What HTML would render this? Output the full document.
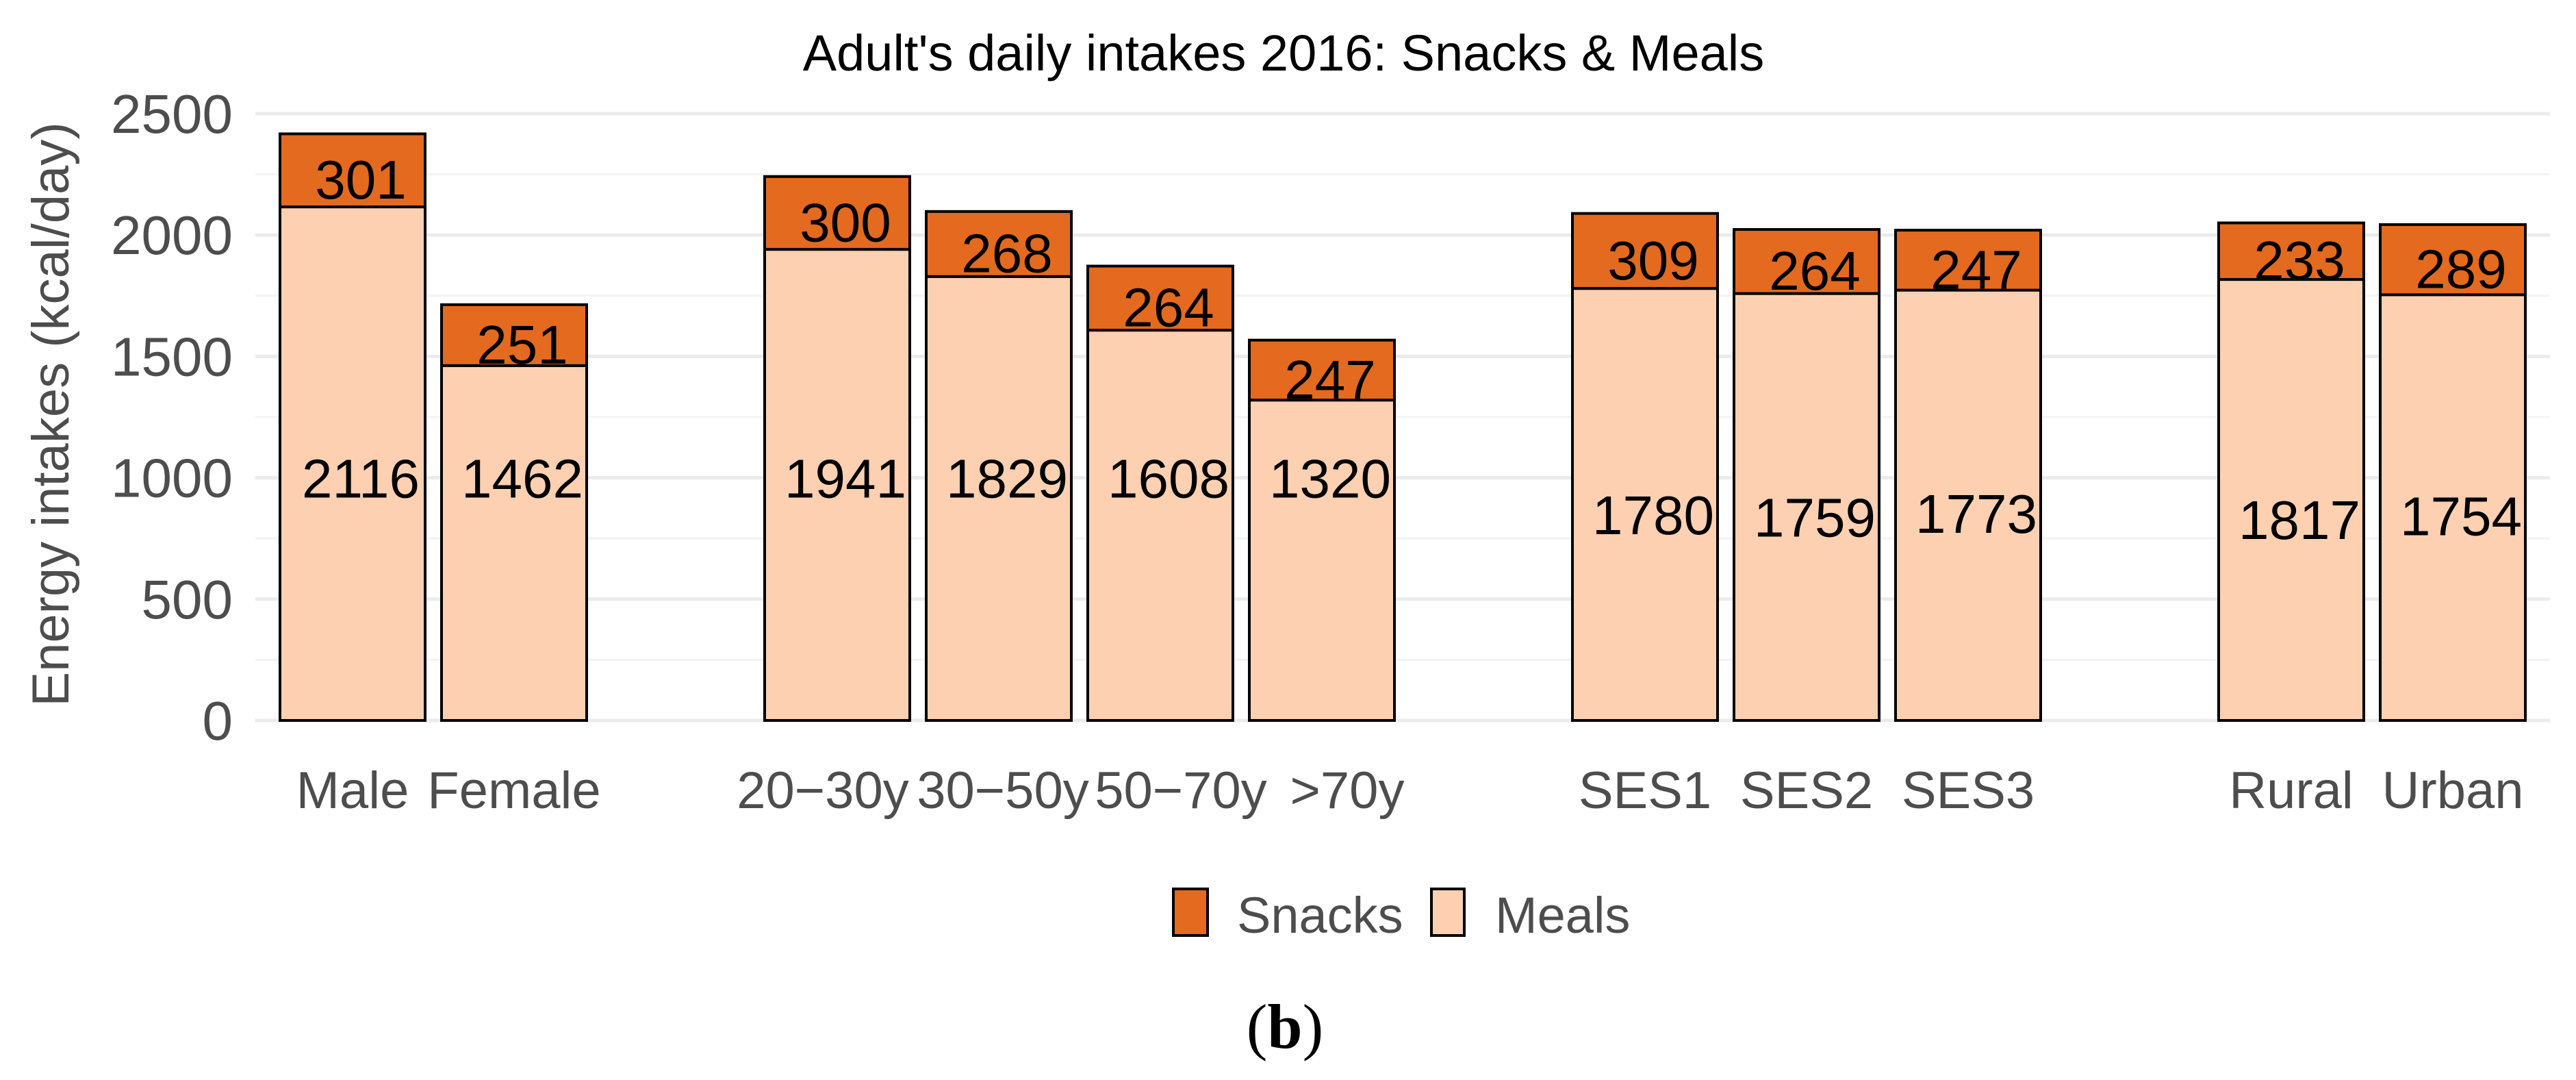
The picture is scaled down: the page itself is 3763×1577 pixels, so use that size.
<!DOCTYPE html>
<html><head><meta charset="utf-8"><style>
html,body{margin:0;padding:0;background:#fff;}
svg{display:block;font-family:"Liberation Sans",Arial,sans-serif;}
</style></head><body>
<svg id="chart" width="3763" height="1577" viewBox="0 0 3763 1577">
<text x="1875" y="103" font-size="74" text-anchor="middle" fill="#000">Adult's daily intakes 2016: Snacks &amp; Meals</text>
<g id="grid"></g>
<g id="yticks"></g>
<text transform="translate(100,605) rotate(-90)" font-size="76" fill="#4d4d4d" text-anchor="middle">Energy intakes (kcal/day)</text>
<g id="bars"></g>
<g id="xlabels"></g>
<g>
  <g>
    <rect x="1714" y="1298" width="50" height="68" fill="#E36A1E" stroke="#000" stroke-width="4"/>
    <text x="1807" y="1362" font-size="74" fill="#4d4d4d">Snacks</text>
  </g>
  <g>
    <rect x="2091" y="1298" width="48" height="68" fill="#FDD0B2" stroke="#000" stroke-width="4"/>
    <text x="2184" y="1362" font-size="74" fill="#4d4d4d">Meals</text>
  </g>
</g>
<text x="1877" y="1530" font-size="92" text-anchor="middle" font-family="'Liberation Serif',serif">(<tspan font-weight="bold">b</tspan>)</text>
</svg>
<script>
const categories = ["Male","Female","","20\u221230y","30\u221250y","50\u221270y",">70y","","SES1","SES2","SES3","","Rural","Urban"];
const meals = [2116,1462,null,1941,1829,1608,1320,null,1780,1759,1773,null,1817,1754];
const snacks = [301,251,null,300,268,264,247,null,309,264,247,null,233,289];
const mealLabelY = [1000,1000,null,1000,1000,1000,1000,null,850,840,855,null,830,845];
const yTicks = [0,500,1000,1500,2000,2500];
const labelShift = [0,0,0,-21,6,30,37,0,0,0,0,0,0,0];

const NS = "http://www.w3.org/2000/svg";
const y0 = 1052, pxPerUnit = 0.3544;
const slotStep = 236, firstCenter = 515, barW = 212;
const panelLeft = 373, panelRight = 3725;
function yScale(v){ return y0 - v*pxPerUnit; }
function xScale(i){ return firstCenter + i*slotStep; }
function mk(tag, attrs, parent){ const e=document.createElementNS(NS,tag); for(const k in attrs) e.setAttribute(k,attrs[k]); parent.appendChild(e); return e; }

const grid = document.getElementById('grid');
const yt = document.getElementById('yticks');
for (let v=0; v<=2500; v+=250){
  const major = v%500===0;
  const l = mk('line',{x1:panelLeft,x2:panelRight,y1:yScale(v),y2:yScale(v),stroke:major?'#ebebeb':'#f3f3f3','stroke-width':major?5:3},grid);
  
  
}
yTicks.forEach(v=>{
  const t = mk('text',{x:340,y:yScale(v)+28,'font-size':80,fill:'#4d4d4d','text-anchor':'end'},yt);
  t.textContent = v;
  
  
});

const bars = document.getElementById('bars');
const xl = document.getElementById('xlabels');
categories.forEach((c,i)=>{
  if (meals[i]===null) return;
  const cx = xScale(i), x = cx - barW/2;
  const m = meals[i], s = snacks[i];
  const g = mk('g',{},bars);
  
  
  const rm = mk('rect',{x:x,y:yScale(m),width:barW,height:yScale(0)-yScale(m),fill:'#FDD0B2',stroke:'#000','stroke-width':4},g);
  
  
  const rs = mk('rect',{x:x,y:yScale(m+s),width:barW,height:yScale(m)-yScale(m+s),fill:'#E36A1E',stroke:'#000','stroke-width':4},g);
  
  
  const tm = mk('text',{x:cx+12,y:yScale(mealLabelY[i])+29,'font-size':80,'text-anchor':'middle',fill:'#000'},g);
  tm.textContent = m;
  
  
  const ts = mk('text',{x:cx+12,y:yScale(m+s/2-35)+29,'font-size':80,'text-anchor':'middle',fill:'#000'},g);
  ts.textContent = s;
  
  
  const tx = mk('text',{x:cx+labelShift[i],y:1180,'font-size':76,'text-anchor':'middle',fill:'#4d4d4d'},xl);
  tx.textContent = c;
  
  
});
</script>
</body></html>
